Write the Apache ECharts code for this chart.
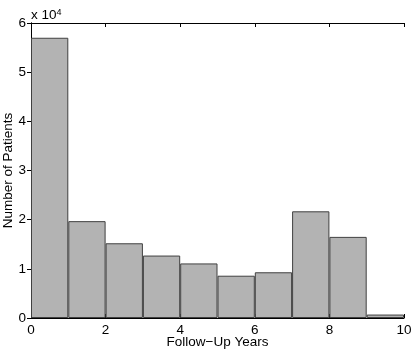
<!DOCTYPE html>
<html>
<head>
<meta charset="utf-8">
<script src="https://cdn.jsdelivr.net/npm/echarts@6/dist/echarts.min.js"></script>
<style>
  html, body { margin: 0; padding: 0; background: #fff; }
  #chart { width: 415px; height: 352px; }
</style>
</head>
<body>
<div id="chart"></div>
<script>
// histogram bins (years) and counts
var bins = ['0-1', '1-2', '2-3', '3-4', '4-5', '5-6', '6-7', '7-8', '8-9', '9-10'];
var counts = [57000, 19700, 15200, 12700, 11100, 8600, 9300, 21700, 16500, 700];
var xTicks = [0, 2, 4, 6, 8, 10];
var yTicks = [0, 1, 2, 3, 4, 5, 6]; // x 10^4

var font = 'Liberation Sans, Arial, sans-serif';
var chart = echarts.init(document.getElementById('chart'));

var frameAxis = {
  type: 'value', min: 0, max: 10, interval: 2,
  axisLine: { show: true, lineStyle: { color: '#000', width: 1 } },
  axisTick: { show: true, inside: true, length: 4, lineStyle: { color: '#000' } },
  splitLine: { show: false }
};

chart.setOption({
  animation: false,
  grid: { left: 31, right: 11, top: 23, bottom: 34, outerBoundsMode: 'none', containLabel: false },
  title: {
    text: 'x 10{s|4}',
    left: 31, top: 8, padding: 0,
    textStyle: {
      fontFamily: font, fontSize: 13.5, fontWeight: 'normal', color: '#000',
      rich: { s: { fontFamily: font, fontSize: 9, verticalAlign: 'top', padding: [0, 0, 6, 0] } }
    }
  },
  xAxis: [
    { type: 'category', data: bins, show: false, boundaryGap: true },
    Object.assign({}, frameAxis, {
      position: 'bottom',
      name: 'Follow\u2212Up Years', nameLocation: 'middle', nameGap: 17, nameMoveOverlap: false,
      nameTextStyle: { fontFamily: font, fontSize: 13.5, color: '#000' },
      axisLabel: {
        fontFamily: font, fontSize: 13.5, color: '#000', margin: 5,
        formatter: function (v) { return xTicks.indexOf(v) >= 0 ? String(v) : ''; }
      }
    }),
    Object.assign({}, frameAxis, { position: 'top', axisLabel: { show: false } })
  ],
  yAxis: [
    {
      type: 'value', min: 0, max: 60000, interval: 10000, position: 'left',
      name: 'Number of Patients', nameLocation: 'middle', nameGap: 16, nameMoveOverlap: false,
      nameTextStyle: { fontFamily: font, fontSize: 13.5, color: '#000' },
      axisLine: { show: true, lineStyle: { color: '#000', width: 1 } },
      axisTick: { show: true, inside: true, length: 4, lineStyle: { color: '#000' } },
      splitLine: { show: false },
      axisLabel: {
        fontFamily: font, fontSize: 13.5, color: '#000', margin: 5,
        formatter: function (v) { return String(yTicks[Math.round(v / 10000)]); }
      }
    },
    {
      type: 'value', min: 0, max: 60000, interval: 10000, position: 'right',
      axisLine: { show: true, lineStyle: { color: '#000', width: 1 } },
      axisTick: { show: true, inside: true, length: 4, lineStyle: { color: '#000' } },
      splitLine: { show: false },
      axisLabel: { show: false }
    }
  ],
  series: [{
    type: 'bar',
    xAxisIndex: 0,
    yAxisIndex: 0,
    data: counts,
    barCategoryGap: '0%',
    itemStyle: { color: '#b3b3b3', borderColor: '#404040', borderWidth: 1 }
  }]
});
</script>
</body>
</html>
